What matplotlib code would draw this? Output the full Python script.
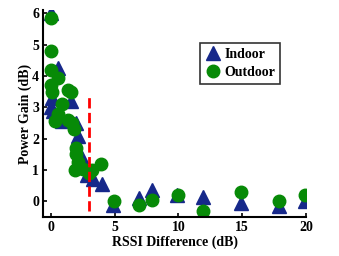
import matplotlib
matplotlib.use('Agg')
import matplotlib.pyplot as plt

# data
indoor_x = [0, 0.6, 0.0, 0.2, 0.1, 1.6, 0.9, 2.0, 2.15, 2.4, 2.65, 2.8, 3.3, 4.0,
            4.9, 6.9, 7.9, 9.9, 11.9, 14.9, 17.9, 19.9]
indoor_y = [6.0, 4.25, 3.0, 2.9, 3.3, 3.2, 2.55, 2.5, 2.1, 1.45, 1.1, 0.85, 0.7, 0.55,
            -0.1, 0.1, 0.35, 0.2, 0.15, -0.05, -0.15, 0.0]

outdoor_x = [0, 0, 0, 0.55, 0.05, 0.1, 1.35, 1.6, 0.85, 0.6, 0.3, 1.35, 1.65, 1.85,
             2.0, 2.0, 2.15, 1.9, 2.55, 3.0, 3.2, 3.9, 4.95, 6.9, 7.95, 10.0,
             11.9, 14.9, 17.9, 19.9]
outdoor_y = [5.85, 4.8, 4.2, 3.95, 3.7, 3.5, 3.55, 3.5, 3.1, 2.8, 2.55, 2.6, 2.5, 2.3,
             1.7, 1.5, 1.25, 1.0, 1.05, 0.9, 1.0, 1.2, 0.0, -0.13, 0.05, 0.2,
             -0.3, 0.3, 0.0, 0.2]

threshold_x = 3
threshold_y = [-0.3, 3.35]

plt.rcParams['font.family'] = ['Liberation Serif', 'DejaVu Serif']
plt.rcParams['font.weight'] = 'bold'
plt.rcParams['font.size'] = 10

fig = plt.figure(figsize=(3.39, 2.56), dpi=100)
ax = fig.add_axes([0.128, 0.152, 0.775, 0.808])

ax.plot(indoor_x, indoor_y, '^', color='#16288a', markersize=10, linestyle='none',
        label='Indoor')
ax.plot(outdoor_x, outdoor_y, 'o', color='#078a07', markersize=9, linestyle='none',
        label='Outdoor')
ax.plot([threshold_x, threshold_x], threshold_y, '--', color='red', linewidth=2)

ax.set_xlim(-0.58, 20)
ax.set_ylim(-0.5, 6.1)
ax.set_xticks([0, 5, 10, 15, 20])
ax.set_yticks([0, 1, 2, 3, 4, 5, 6])
ax.tick_params(direction='in', length=3, width=1.2, pad=3)
for s in ['top', 'right']:
    ax.spines[s].set_visible(False)
for s in ['left', 'bottom']:
    ax.spines[s].set_linewidth(1.5)

ax.set_xlabel('RSSI Difference (dB)', fontweight='bold', labelpad=1)
ax.set_ylabel('Power Gain (dB)', fontweight='bold', labelpad=0.5)

leg = ax.legend(loc='upper right', bbox_to_anchor=(0.9, 0.84), fancybox=False,
                edgecolor='black', handletextpad=0.2, borderpad=0.35,
                handlelength=1.2, labelspacing=0.35, borderaxespad=0)
leg.get_frame().set_linewidth(1.2)

fig.savefig('out.png', dpi=100)
